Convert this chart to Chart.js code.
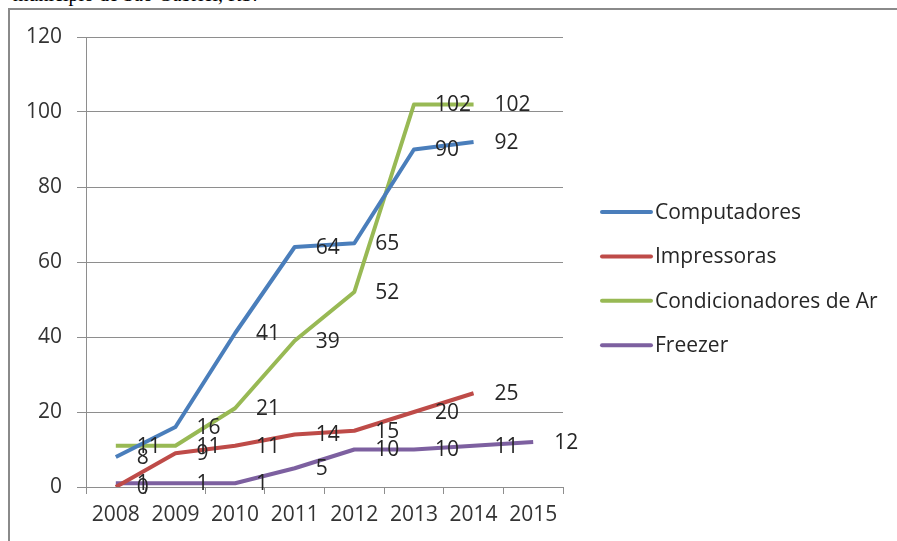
<!DOCTYPE html>
<html>
<head>
<meta charset="utf-8">
<script src="https://cdn.jsdelivr.net/npm/chart.js@4.4.0/dist/chart.umd.min.js"></script>
<style>
  html, body { margin: 0; padding: 0; background: #fff; overflow: hidden; }
  #caption { position: absolute; left: 13px; top: -17px; font: 20px "Liberation Serif", serif; color: #000; white-space: nowrap; }
  #frame { position: absolute; left: 8px; top: 8px; width: 950px; height: 600px; border-left: 2px solid #8a8a8a; border-top: 2px solid #8a8a8a; }
  #line-chartcanvas { position: absolute; left: 0; top: 0; }
</style>
</head>
<body>
<div id="caption">município de São Gabriel, RS.</div>
<div id="frame"></div>
<canvas id="line-chartcanvas" width="897" height="541"></canvas>
<script>
// categories and series values
var years = ["2008", "2009", "2010", "2011", "2012", "2013", "2014", "2015"];
var computadores = [8, 16, 41, 64, 65, 90, 92];
var impressoras = [0, 9, 11, 14, 15, 20, 25];
var condicionadores = [11, 11, 21, 39, 52, 102, 102];
var freezer = [1, 1, 1, 5, 10, 10, 11, 12];
var yTicks = [0, 20, 40, 60, 80, 100, 120];

var FONT = "'Open Sans', sans-serif";
var GRID = "#8e8e8e";

// value labels, drawn to the right of each point
var valueLabels = {
    id: "valueLabels",
    afterDatasetsDraw: function(chart) {
        var ctx = chart.ctx;
        ctx.save();
        ctx.font = "21px " + FONT;
        ctx.fillStyle = "#262626";
        ctx.textAlign = "left";
        ctx.textBaseline = "middle";
        chart.data.datasets.forEach(function(ds, i) {
            chart.getDatasetMeta(i).data.forEach(function(pt, j) {
                if (ds.data[j] === undefined) return;
                ctx.fillText(String(ds.data[j]), pt.x + 21, pt.y + 1);
            });
        });
        ctx.restore();
    }
};

// legend on the right, Excel style
var sideLegend = {
    id: "sideLegend",
    afterDraw: function(chart) {
        var ctx = chart.ctx;
        ctx.save();
        ctx.font = "21px " + FONT;
        ctx.textBaseline = "middle";
        ctx.textAlign = "left";
        chart.data.datasets.forEach(function(ds, i) {
            var y = 212 + i * 44.4;
            ctx.strokeStyle = ds.borderColor;
            ctx.lineWidth = 4;
            ctx.lineCap = "round";
            ctx.beginPath();
            ctx.moveTo(602, y);
            ctx.lineTo(651, y);
            ctx.stroke();
            ctx.fillStyle = "#262626";
            ctx.fillText(ds.label, 655, y + 1);
        });
        ctx.restore();
    }
};

var ctx = document.getElementById("line-chartcanvas");

var data = {
    labels: years,
    datasets: [
        { label: "Computadores", data: computadores, borderColor: "#4a7ebb" },
        { label: "Impressoras", data: impressoras, borderColor: "#be4b48" },
        { label: "Condicionadores de Ar", data: condicionadores, borderColor: "#98b954" },
        { label: "Freezer", data: freezer, borderColor: "#7d60a0" }
    ].map(function(d) {
        d.backgroundColor = d.borderColor;
        d.borderWidth = 4;
        d.fill = false;
        d.tension = 0;
        d.pointRadius = 0;
        d.borderJoinStyle = "round";
        return d;
    })
};

var options = {
    responsive: false,
    animation: false,
    layout: { padding: { left: 0, right: 334, top: 37, bottom: 0 } },
    plugins: {
        legend: { display: false },
        tooltip: { enabled: false }
    },
    scales: {
        x: {
            type: "category",
            offset: true,
            grid: { offset: true, drawOnChartArea: false, drawTicks: true, tickLength: 7, color: GRID },
            border: { color: GRID, width: 1 },
            ticks: { font: { family: FONT, size: 21 }, color: "#333", padding: 8, maxRotation: 0, autoSkip: false },
            afterFit: function(s) { s.height = 54; }
        },
        y: {
            min: 0,
            max: 120,
            afterBuildTicks: function(s) { s.ticks = yTicks.map(function(v) { return { value: v }; }); },
            grid: { color: GRID, tickLength: 9 },
            border: { color: GRID, width: 1 },
            ticks: { font: { family: FONT, size: 21 }, color: "#333", padding: 15 },
            afterFit: function(s) { s.width = 86; }
        }
    }
};

var chart = new Chart(ctx, {
    type: "line",
    data: data,
    options: options,
    plugins: [valueLabels, sideLegend]
});
</script>
</body>
</html>
